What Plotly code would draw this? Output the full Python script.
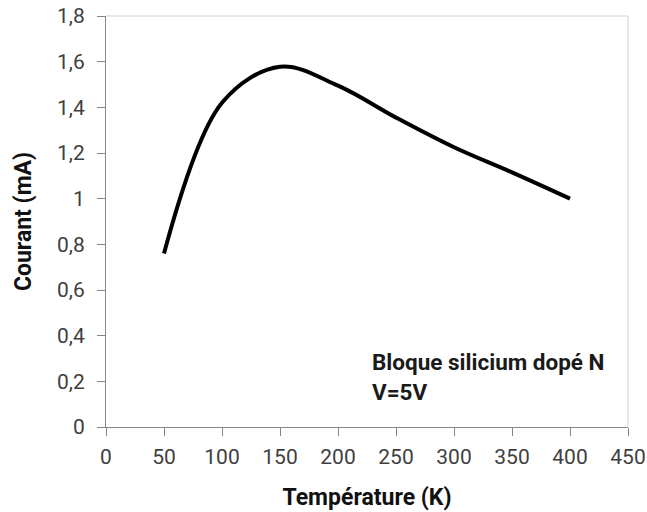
import plotly.graph_objects as go

temperature_K = [50, 100, 150, 200, 250, 300, 350, 400]
courant_mA = [0.76, 1.42, 1.578, 1.495, 1.355, 1.225, 1.115, 1.0]

x_ticks = [0, 50, 100, 150, 200, 250, 300, 350, 400, 450]
y_ticks = [0, 0.2, 0.4, 0.6, 0.8, 1.0, 1.2, 1.4, 1.6, 1.8]
y_tick_labels = ["0", "0,2", "0,4", "0,6", "0,8", "1", "1,2", "1,4", "1,6", "1,8"]

FONT = "Roboto, Liberation Sans, sans-serif"

fig = go.Figure()
fig.add_trace(go.Scatter(
    x=temperature_K, y=courant_mA, mode="lines",
    line=dict(color="black", width=4, shape="spline", smoothing=1.0),
    showlegend=False, hoverinfo="x+y",
))

axis_common = dict(
    showgrid=False, zeroline=False, showline=True, linecolor="#868686", linewidth=1,
    ticks="outside", ticklen=8, tickcolor="#868686", tickwidth=1,
    tickfont=dict(family=FONT, size=21, color="#404040"),
    automargin=False,
)

fig.update_layout(
    width=647, height=512,
    margin=dict(l=106, r=19, t=16, b=85),
    paper_bgcolor="white", plot_bgcolor="white",
    font=dict(family=FONT),
    xaxis=dict(range=[0, 450], tickmode="array", tickvals=x_ticks,
               ticktext=[str(v) for v in x_ticks], ticklabelstandoff=3,
               title=dict(text="<b>Température (K)</b>",
                          font=dict(family=FONT, size=23, color="#111111"), standoff=20),
               **axis_common),
    yaxis=dict(range=[0, 1.8], tickmode="array", tickvals=y_ticks, ticktext=y_tick_labels,
               ticklabelstandoff=8,
               title=dict(text="<b>Courant (mA)</b>",
                          font=dict(family=FONT, size=23, color="#111111"), standoff=18),
               **axis_common),
    shapes=[
        dict(type="line", xref="paper", yref="paper", x0=0, x1=1, y0=1, y1=1,
             line=dict(color="#d0d0d0", width=1)),
        dict(type="line", xref="paper", yref="paper", x0=1, x1=1, y0=0, y1=1,
             line=dict(color="#d0d0d0", width=1)),
    ],
    annotations=[
        dict(x=228, y=0.285, xref="x", yref="y", xanchor="left", yanchor="middle",
             text="<b>Bloque silicium dopé N</b>", showarrow=False,
             font=dict(family=FONT, size=22.5, color="#1a1a1a")),
        dict(x=228, y=0.155, xref="x", yref="y", xanchor="left", yanchor="middle",
             text="<b>V=5V</b>", showarrow=False,
             font=dict(family=FONT, size=22.5, color="#1a1a1a")),
    ],
)

# remove the browser's default 8px body margin so the figure sits at the page origin
fig.write_html("out.html", config={"displayModeBar": False},
               post_script="document.body.style.margin='0';")
